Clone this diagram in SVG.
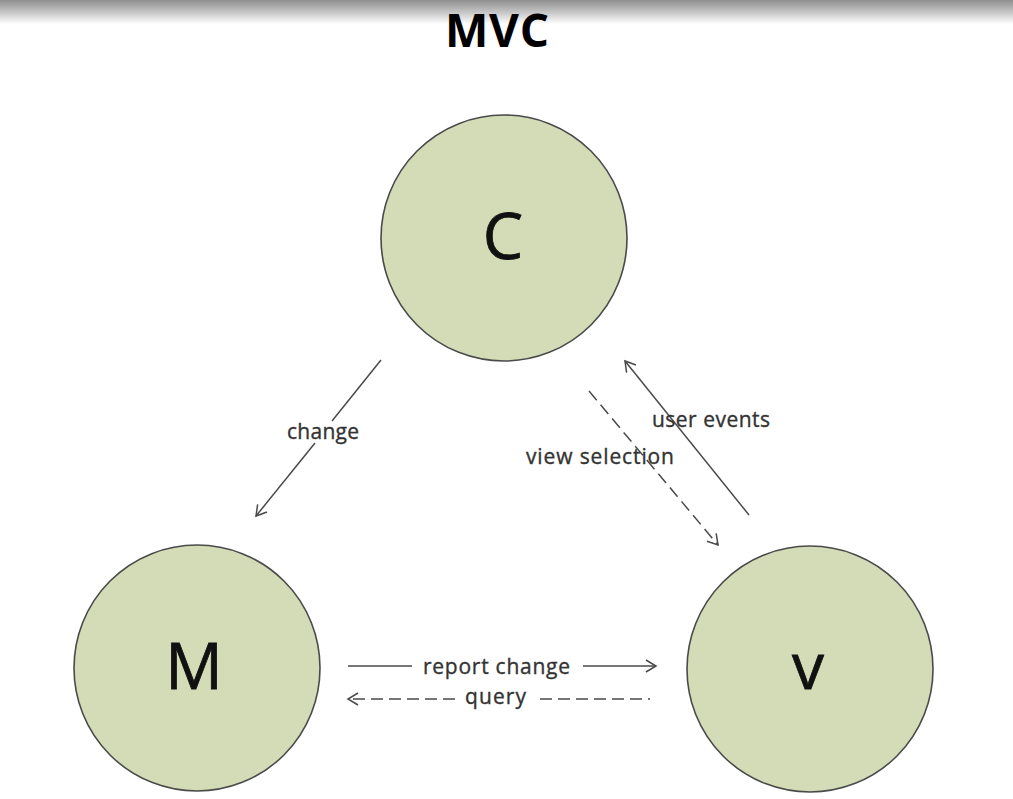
<svg xmlns="http://www.w3.org/2000/svg" width="1013" height="799" viewBox="0 0 1013 799">
<style>
.node { fill: #d3dcb6; stroke: #4a4a4a; stroke-width: 1.6; }
.big { font-family: "Open Sans", "Liberation Sans", sans-serif; font-size: 64px; fill: #111; stroke: #111; stroke-width: 0.8; text-anchor: middle; }
.lbl { font-family: "Open Sans", "Liberation Sans", sans-serif; font-size: 21px; fill: #333; stroke: #333; stroke-width: 0.35; }
.ln { stroke: #4a4a4a; stroke-width: 1.5; fill: none; }
.dash { stroke-dasharray: 12 6; }
</style>
<defs>
<linearGradient id="topbar" x1="0" y1="0" x2="0" y2="1">
<stop offset="0" stop-color="#8f8f8f"/>
<stop offset="0.5" stop-color="#c4c4c4"/>
<stop offset="1" stop-color="#ffffff"/>
</linearGradient>
<marker id="arr" viewBox="-12 -7 14 14" refX="0" refY="0" markerWidth="14" markerHeight="14" markerUnits="userSpaceOnUse" orient="auto">
<path d="M -10,-6 L 0,0 L -10,6" fill="none" stroke="#4a4a4a" stroke-width="1.5"/>
</marker>
</defs>
<rect width="1013" height="799" fill="#ffffff"/>
<rect width="1013" height="24" fill="url(#topbar)"/>
<text x="497" y="47" font-family="'Open Sans', 'Liberation Sans', sans-serif" font-weight="bold" font-size="46" text-anchor="middle" fill="#000" textLength="104">MVC</text>

<g id="connectors">
<g id="change">
<line class="ln" x1="381" y1="360" x2="332" y2="421"/>
<line class="ln" x1="315" y1="443" x2="256" y2="516" marker-end="url(#arr)"/>
<text class="lbl" x="287" y="439" textLength="72">change</text>
</g>
<g id="user-events">
<line class="ln" x1="749" y1="515" x2="625" y2="361" marker-end="url(#arr)"/>
<text class="lbl" x="652" y="427" textLength="118">user events</text>
</g>
<g id="view-selection">
<line class="ln dash" x1="589" y1="391" x2="718" y2="545" marker-end="url(#arr)"/>
<text class="lbl" x="526" y="464" textLength="148">view selection</text>
</g>
<g id="report-change">
<line class="ln" x1="348" y1="666" x2="412" y2="666"/>
<line class="ln" x1="583" y1="666" x2="656" y2="666" marker-end="url(#arr)"/>
<text class="lbl" x="423" y="674" textLength="147">report change</text>
</g>
<g id="query">
<line class="ln dash" x1="455" y1="699" x2="348" y2="699" marker-end="url(#arr)"/>
<line class="ln dash" x1="540" y1="699" x2="650" y2="699"/>
<text class="lbl" x="465" y="704" textLength="61">query</text>
</g>
</g>

<g id="node-C">
<circle class="node" cx="504" cy="238" r="123"/>
<text class="big" x="503" y="259">C</text>
</g>
<g id="node-M">
<circle class="node" cx="197" cy="668" r="123"/>
<text class="big" x="194" y="689">M</text>
</g>
<g id="node-V">
<circle class="node" cx="810" cy="669" r="123"/>
<text class="big" x="808" y="689">v</text>
</g>
</svg>
